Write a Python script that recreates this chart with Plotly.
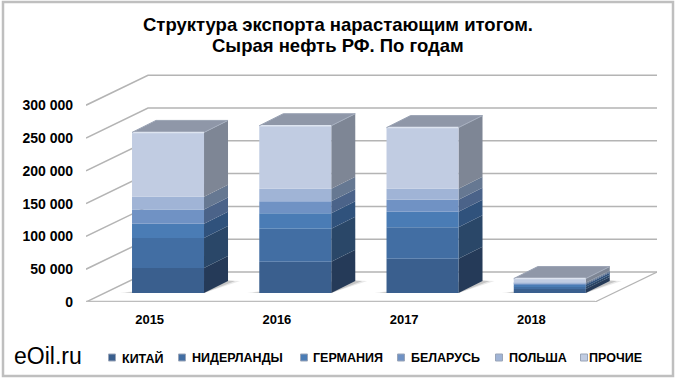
import plotly.graph_objects as go

# ---------- data ----------
years = ["2015", "2016", "2017", "2018"]
china = [38100, 47700, 52300, 6000]
netherlands = [45700, 50300, 47800, 3500]
germany = [21800, 23400, 23900, 3000]
belarus = [21800, 18300, 18300, 1500]
poland = [19400, 19300, 16800, 1500]
other = [98000, 96000, 93000, 6500]
series_names = ["КИТАЙ", "НИДЕРЛАНДЫ", "ГЕРМАНИЯ", "БЕЛАРУСЬ", "ПОЛЬША", "ПРОЧИЕ"]
y_ticks = [0, 50000, 100000, 150000, 200000, 250000, 300000]
y_ticklabels = ["0", "50 000", "100 000", "150 000", "200 000", "250 000", "300 000"]
title_line1 = "Структура экспорта нарастающим итогом."
title_line2 = "Сырая нефть РФ. По годам"

# ---------- style / geometry ----------
series = [china, netherlands, germany, belarus, poland, other]
front = ["#3a5f8e", "#426ea3", "#4a7cb5", "#7092c4", "#a0b4d6", "#c1cce2"]
side = ["#253a58", "#2a4768", "#30527c", "#4b6389", "#667892", "#7e8695"]
top_col = "#8f97a8"
W, H = 680, 384
ML, MR, MT, MB = 86, 23, 60, 82
PX_X = 127.25            # px per category
PX_Y = 32.8 / 50000      # px per value unit
ux = lambda px: px / PX_X
uy = lambda px: px / PX_Y
X0 = -0.5
X1 = X0 + ux(W - ML - MR)
Y1 = uy(H - MT - MB)
DEEP_X, DEEP_Y = ux(62), uy(30)     # floor depth
BAR_X, BAR_Y = ux(18.4), uy(9)      # bar offset from the front of the floor
BD_X, BD_Y = ux(24), uy(12)         # bar depth
BW = ux(72)
xp = lambda px: (px - ML) / (W - ML - MR)
yp = lambda py: (H - MB - py) / (H - MT - MB)
GRID = "#b4b4b4"

fig = go.Figure()


def poly(xs, ys, color):
    fig.add_trace(go.Scatter(
        x=xs, y=ys, mode="lines", fill="toself", fillcolor=color,
        line=dict(color="rgba(0,0,0,0)", width=0),
        hoverinfo="skip", showlegend=False, cliponaxis=False))


def ln(xs, ys, color=GRID, width=1.5, overlay=False):
    fig.add_trace(go.Scatter(x=xs, y=ys, mode="lines", line=dict(color=color, width=width),
                             hoverinfo="skip", showlegend=False, cliponaxis=False,
                             xaxis="x2" if overlay else "x", yaxis="y2" if overlay else "y"))


# walls: oblique lines and back gridlines
for v in y_ticks:
    ln([X0, X0 + DEEP_X, X1], [v, v + DEEP_Y, v + DEEP_Y])
# floor
ln([X0, X0 + ux(509)], [0, 0], "#bdbdbd", 2.5)
ln([X0 + ux(509), X1], [0, DEEP_Y], GRID, 1.2)

# shadows, side faces, top faces
for i in range(len(years)):
    L = i + BAR_X - BW / 2
    R = L + BW
    for grow, op in ((ux(12), 0.10), (ux(7), 0.18)):
        poly([L - grow, R, R + BD_X + grow, R + BD_X - grow, L - grow],
             [BAR_Y, BAR_Y, BAR_Y + BD_Y, BAR_Y + BD_Y + uy(1), BAR_Y],
             f"rgba(40,40,40,{op})")
    base = BAR_Y
    for s, col in zip(series, side):
        b, t = base, base + s[i]
        poly([R, R + BD_X, R + BD_X, R, R], [b, b + BD_Y, t + BD_Y, t, b], col)
        base = t
    poly([L, L + BD_X, R + BD_X, R, L], [base, base + BD_Y, base + BD_Y, base, base], top_col)

# front faces, on an overlaid copy of the axes so they sit above the walls
bases = [BAR_Y] * len(years)
for name, s, col in zip(series_names, series, front):
    fig.add_trace(go.Bar(
        x=[i + BAR_X for i in range(len(years))], y=s, base=list(bases), width=BW,
        name=name, marker=dict(color=col, line=dict(width=0)), showlegend=False,
        xaxis="x2", yaxis="y2"))
    bases = [b + v for b, v in zip(bases, s)]

# bevel highlights
for i, t in enumerate(bases):
    L = i + BAR_X - BW / 2
    R = L + BW
    ln([L, R], [t, t], "#dde4f0", 1.5, overlay=True)
    ln([R, R + BD_X], [t, t + BD_Y], "#a6afbf", 1, overlay=True)
    ln([L, L + BD_X, R + BD_X], [t, t + BD_Y, t + BD_Y], "#9aa3b4", 1, overlay=True)

fig.update_layout(
    width=W, height=H, margin=dict(l=ML, r=MR, t=MT, b=MB, autoexpand=False),
    paper_bgcolor="white", plot_bgcolor="rgba(0,0,0,0)", barmode="overlay", showlegend=False,
    font=dict(family="Liberation Sans", color="black"),
    title=dict(text=f"<b>{title_line1}</b>", x=338 / W, xanchor="center", y=1 - 18 / H, yanchor="top",
               font=dict(size=18.5, family="Liberation Sans", color="black")),
    xaxis=dict(range=[X0, X1], tickmode="array", tickvals=list(range(len(years))), ticktext=years,
               showgrid=False, zeroline=False, showline=False, ticks="", ticklabelstandoff=8,
               tickfont=dict(size=13, weight="bold")),
    yaxis=dict(range=[0, Y1], tickmode="array", tickvals=y_ticks, ticktext=y_ticklabels,
               showgrid=False, zeroline=False, showline=False, ticks="", ticklabelstandoff=12,
               tickfont=dict(size=14, weight="bold")),
    xaxis2=dict(range=[X0, X1], overlaying="x", visible=False),
    yaxis2=dict(range=[0, Y1], overlaying="y", visible=False),
)

fig.add_annotation(text=f"<b>{title_line2}</b>", xref="paper", yref="paper", x=xp(338), y=yp(45),
                   xanchor="center", yanchor="middle", showarrow=False,
                   font=dict(size=18.5, family="Liberation Sans"))

# chart frame
fig.add_shape(type="rect", xref="paper", yref="paper", x0=xp(3), x1=xp(673), y0=yp(376), y1=yp(2),
              line=dict(color="#bfbfbf", width=2.5), fillcolor="rgba(0,0,0,0)", layer="above")

# brand text
fig.add_annotation(text="eOil.ru", xref="paper", yref="paper", x=xp(12), y=yp(356), xanchor="left",
                   yanchor="middle", showarrow=False, font=dict(size=23, family="Liberation Sans"))

# hand-placed legend
legend_mark_x = [112, 182, 304, 401, 499, 584]
legend_text_gap = [8, 8, 7, 8, 8, 3]
for name, col, mx, gap in zip(series_names, front, legend_mark_x, legend_text_gap):
    fig.add_shape(type="rect", xref="paper", yref="paper", x0=xp(mx - 3.5), x1=xp(mx + 3.5),
                  y0=yp(361), y1=yp(354), fillcolor=col, line=dict(color="#9aa5b8", width=1), layer="above")
    fig.add_annotation(text=f"<b>{name}</b>", xref="paper", yref="paper", x=xp(mx + gap), y=yp(358),
                       xanchor="left", yanchor="middle", showarrow=False,
                       font=dict(size=12.5, family="Liberation Sans"))

fig.write_html("out.html", config={"displayModeBar": False},
               post_script="document.body.style.margin='0';")
